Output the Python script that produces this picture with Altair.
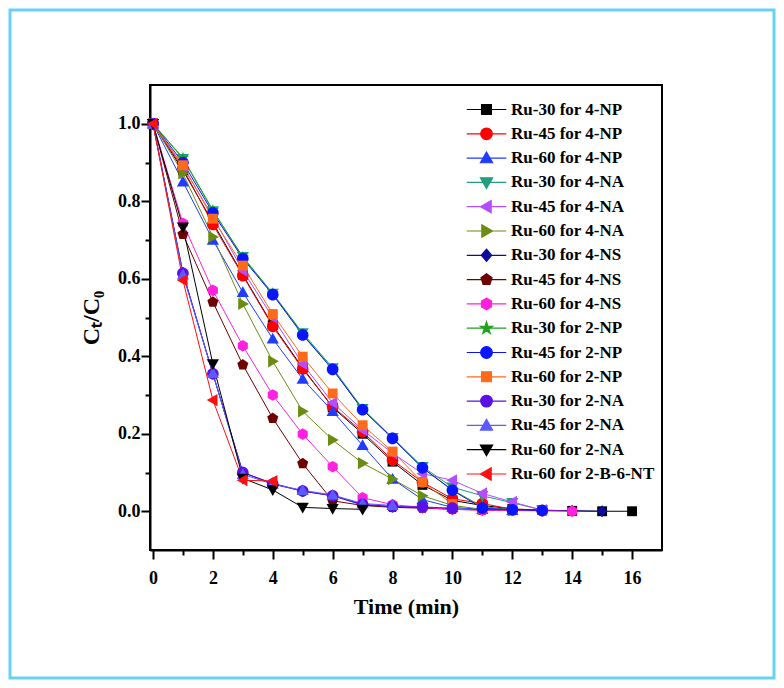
import altair as alt
import pandas as pd

# ---------------- data ----------------
TIME = list(range(17))

SERIES = [
    "Ru-30 for 4-NP", "Ru-45 for 4-NP", "Ru-60 for 4-NP",
    "Ru-30 for 4-NA", "Ru-45 for 4-NA", "Ru-60 for 4-NA",
    "Ru-30 for 4-NS", "Ru-45 for 4-NS", "Ru-60 for 4-NS",
    "Ru-30 for 2-NP", "Ru-45 for 2-NP", "Ru-60 for 2-NP",
    "Ru-30 for 2-NA", "Ru-45 for 2-NA", "Ru-60 for 2-NA",
    "Ru-60 for 2-B-6-NT",
]

COLORS = [
    "#000000", "#ff0000", "#1f3cff",
    "#1f9e80", "#b54cff", "#6b8c12",
    "#0c0c9c", "#6e0000", "#ff20e0",
    "#1fa31f", "#0a14ff", "#ff6a1a",
    "#5a10e6", "#5a5aff", "#000000",
    "#ff1010",
]

ru30_4np = [1.00, 0.88, 0.745, 0.61, 0.48, 0.37, 0.268, 0.20, 0.128, 0.068, 0.028, 0.015, 0.006, 0.003, 0.001, 0.0, 0.0]
ru45_4np = [1.00, 0.885, 0.74, 0.608, 0.477, 0.367, 0.27, 0.205, 0.132, 0.075, 0.032, 0.02, 0.005, 0.002]
ru60_4np = [1.00, 0.85, 0.70, 0.565, 0.445, 0.341, 0.258, 0.17, 0.083, 0.03, 0.01, 0.005, 0.002]
ru30_4na = [1.00, 0.91, 0.775, 0.657, 0.562, 0.46, 0.37, 0.265, 0.19, 0.115, 0.062, 0.04, 0.022, 0.003]
ru45_4na = [1.00, 0.89, 0.76, 0.621, 0.50, 0.38, 0.28, 0.21, 0.15, 0.097, 0.08, 0.046, 0.024, 0.003]
ru60_4na = [1.00, 0.872, 0.708, 0.535, 0.387, 0.258, 0.184, 0.124, 0.083, 0.04, 0.015, 0.005, 0.002]
ru30_4ns = [1.00, 0.615, 0.355, 0.10, 0.072, 0.052, 0.04, 0.016, 0.012, 0.009, 0.006, 0.004, 0.003, 0.002, 0.001, 0.0]
ru45_4ns = [1.00, 0.715, 0.54, 0.378, 0.24, 0.123, 0.027, 0.015, 0.01, 0.008, 0.005, 0.003, 0.002]
ru60_4ns = [1.00, 0.743, 0.57, 0.427, 0.30, 0.199, 0.115, 0.035, 0.017, 0.01, 0.005, 0.003, 0.002, 0.001, 0.0]
ru30_2np = [1.00, 0.912, 0.777, 0.655, 0.562, 0.457, 0.366, 0.263, 0.188, 0.112, 0.055, 0.012, 0.004]
ru45_2np = [1.00, 0.90, 0.77, 0.652, 0.559, 0.455, 0.366, 0.262, 0.188, 0.112, 0.054, 0.008, 0.004, 0.002]
ru60_2np = [1.00, 0.893, 0.755, 0.634, 0.509, 0.399, 0.304, 0.222, 0.154, 0.075, 0.019]
ru30_2na = [1.00, 0.614, 0.355, 0.10, 0.07, 0.052, 0.04, 0.018, 0.012, 0.011, 0.008]
ru45_2na = [1.00, 0.61, 0.356, 0.095, 0.07, 0.054, 0.042, 0.02, 0.015]
ru60_2na = [1.00, 0.733, 0.38, 0.085, 0.055, 0.01, 0.007, 0.005]
ru60_2b6nt = [1.00, 0.596, 0.287, 0.08, 0.078]

VALUES = [
    ru30_4np, ru45_4np, ru60_4np,
    ru30_4na, ru45_4na, ru60_4na,
    ru30_4ns, ru45_4ns, ru60_4ns,
    ru30_2np, ru45_2np, ru60_2np,
    ru30_2na, ru45_2na, ru60_2na,
    ru60_2b6nt,
]

X_MAJOR = [0, 2, 4, 6, 8, 10, 12, 14, 16]
X_MINOR = [1, 3, 5, 7, 9, 11, 13, 15]
Y_MAJOR = [0.0, 0.2, 0.4, 0.6, 0.8, 1.0]
Y_MINOR = [0.1, 0.3, 0.5, 0.7, 0.9]

rows = []
for name, vals in zip(SERIES, VALUES):
    for t, v in zip(TIME, vals):
        rows.append({"series": name, "t": t, "v": v})
df = pd.DataFrame(rows)

# ---------------- marker shapes (unit paths) ----------------
SQUARE = "M-0.85,-0.85H0.85V0.85H-0.85Z"
CIRCLE = "M1,0A1,1,0,1,1,-1,0A1,1,0,1,1,1,0Z"
TRI_UP = "M0,-1.05L1.05,0.8L-1.05,0.8Z"
TRI_DOWN = "M0,1.05L1.05,-0.8L-1.05,-0.8Z"
TRI_LEFT = "M-1.05,0L0.8,-1.05L0.8,1.05Z"
TRI_RIGHT = "M1.05,0L-0.8,-1.05L-0.8,1.05Z"
DIAMOND = "M0,-1.05L0.9,0L0,1.05L-0.9,0Z"
PENTAGON = "M0,-1L0.951,-0.309L0.588,0.809L-0.588,0.809L-0.951,-0.309Z"
HEXAGON = "M0,-1L0.866,-0.5L0.866,0.5L0,1L-0.866,0.5L-0.866,-0.5Z"
STAR = ("M0,-1.1L0.247,-0.34L1.046,-0.34L0.4,0.13L0.647,0.89L0,0.42"
        "L-0.647,0.89L-0.4,0.13L-1.046,-0.34L-0.247,-0.34Z")

MARKERS = [
    SQUARE, CIRCLE, TRI_UP,
    TRI_DOWN, TRI_LEFT, TRI_RIGHT,
    DIAMOND, PENTAGON, HEXAGON,
    STAR, CIRCLE, SQUARE,
    CIRCLE, TRI_UP, TRI_DOWN,
    TRI_LEFT,
]
LEGEND_MARKERS = ["M-3.4,0H3.4" + m for m in MARKERS]

FONT = "Liberation Serif"

xscale = alt.Scale(domain=[-0.1, 17], nice=False, zero=False)
yscale = alt.Scale(domain=[-0.1, 1.1], nice=False, zero=False)

# ---------------- layers ----------------
border = alt.Chart(pd.DataFrame({"k": [0]})).mark_rect(
    fillOpacity=0, stroke="#66d2f4", strokeWidth=3
).encode(
    x=alt.value(-140), x2=alt.value(624), y=alt.value(-75), y2=alt.value(593)
)

lines = alt.Chart(df).mark_line(strokeWidth=1).encode(
    x=alt.X("t:Q", scale=xscale,
            axis=alt.Axis(orient="bottom", values=X_MAJOR, format="d", tickSize=9,
                          tickWidth=2, tickColor="black", domainWidth=2, domainColor="black",
                          labelFont=FONT, labelFontWeight="bold", labelFontSize=18,
                          labelColor="black", labelPadding=10, grid=False,
                          title="Time (min)", titleFont=FONT, titleFontWeight="bold",
                          titleFontSize=22, titleColor="black", titlePadding=9)),
    y=alt.Y("v:Q", scale=yscale,
            axis=alt.Axis(orient="left", values=Y_MAJOR, format=".1f", tickSize=9,
                          tickWidth=2, tickColor="black", domainWidth=2, domainColor="black",
                          labelFont=FONT, labelFontWeight="bold", labelFontSize=18,
                          labelColor="black", labelPadding=1, grid=False,
                          title="Cₜ/C₀", titleFont=FONT, titleFontWeight="bold",
                          titleFontSize=24, titleColor="black", titlePadding=14)),
    color=alt.Color("series:N", scale=alt.Scale(domain=SERIES, range=COLORS), legend=None),
    order=alt.Order("t:Q"),
)

points = alt.Chart(df).mark_point(filled=True, size=135, opacity=1).encode(
    x=alt.X("t:Q", scale=xscale,
            axis=alt.Axis(orient="bottom", values=X_MINOR, tickSize=5, tickWidth=2,
                          tickColor="black", labels=False, domain=False, grid=False,
                          title=None)),
    y=alt.Y("v:Q", scale=yscale,
            axis=alt.Axis(orient="left", values=Y_MINOR, tickSize=5, tickWidth=2,
                          tickColor="black", labels=False, domain=False, grid=False,
                          title=None)),
    color=alt.Color("series:N", scale=alt.Scale(domain=SERIES, range=COLORS), legend=None),
    shape=alt.Shape("series:N", scale=alt.Scale(domain=SERIES, range=MARKERS), legend=None),
)

leg = alt.Legend(
    title=None, orient="none", legendX=328, legendY=16, padding=0,
    labelFont=FONT, labelFontWeight="bold", labelFontSize=17, labelColor="black",
    labelOffset=16, rowPadding=6.3, symbolSize=135, symbolStrokeWidth=1.2,
    labelLimit=300,
)

legend_layer = alt.Chart(df).transform_filter("false").mark_point(
    size=135, strokeWidth=1.2, opacity=1
).encode(
    x=alt.X("t:Q", scale=xscale, axis=None),
    y=alt.Y("v:Q", scale=yscale, axis=None),
    fill=alt.Fill("series:N", scale=alt.Scale(domain=SERIES, range=COLORS), legend=leg),
    stroke=alt.Stroke("series:N", scale=alt.Scale(domain=SERIES, range=COLORS), legend=leg),
    shape=alt.Shape("series:N", scale=alt.Scale(domain=SERIES, range=LEGEND_MARKERS), legend=leg),
)

chart = alt.layer(border, lines, points, legend_layer).resolve_scale(
    color="independent", fill="independent", stroke="independent", shape="independent"
).resolve_axis(
    x="independent", y="independent"
).properties(
    width=512, height=465,
    autosize=alt.AutoSizeParams(type="none"),
    padding={"left": 142, "top": 77, "right": 114, "bottom": 130},
    background="white",
).configure_view(
    stroke="black", strokeWidth=2
)

chart.save("out.html", embed_options={"renderer": "svg", "actions": False})
